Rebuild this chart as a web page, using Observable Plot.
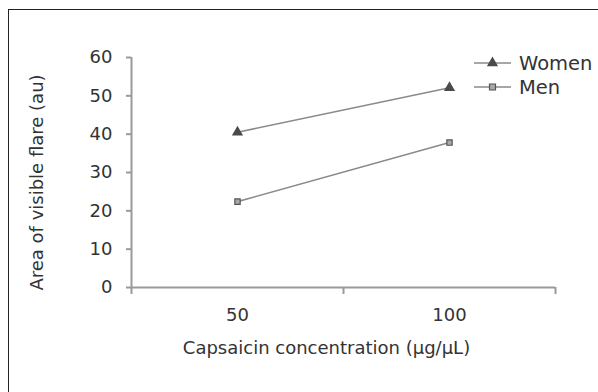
<!DOCTYPE html>
<html>
<head>
<meta charset="utf-8">
<script src="https://cdn.jsdelivr.net/npm/d3@7"></script>
<script src="https://cdn.jsdelivr.net/npm/@observablehq/plot@0.6"></script>
<style>
  body { margin: 0; background: #fff; }
  #chart { position: relative; width: 598px; height: 392px; overflow: hidden;
           font-family: "DejaVu Sans", sans-serif; color: #333; }
  #frame { position: absolute; left: 8px; top: 9px; right: -10px; bottom: -10px;
           border-left: 1.5px solid #222; border-top: 1.5px solid #222; }
  #legend { position: absolute; left: 474px; top: 51px; font-size: 19.5px; color: #333; }
  #legend .row { display: flex; align-items: center; height: 24px; white-space: nowrap; }
  #legend svg { margin-right: 8px; overflow: visible; }
</style>
</head>
<body>
<div id="chart"><div id="frame"></div></div>
<script>
// Capsaicin dose vs. visible flare area, by sex
const concentrations = [50, 100];
const women = [40.5, 52.1];
const men = [22.4, 37.8];
const seriesNames = ["Women", "Men"];
const yTicks = [0, 10, 20, 30, 40, 50, 60];
const xBounds = [25, 75, 125]; // category boundaries on the x axis
const yTitle = "Area of visible flare (au)";
const xTitle = "Capsaicin concentration (μg/μL)";

const seriesValues = { Women: women, Men: men };
const rows = seriesNames.flatMap(s =>
  concentrations.map((c, i) => ({ series: s, conc: c, value: seriesValues[s][i] }))
);

const textColor = "#333";
const lineColor = "#8a8a8a";
const axisColor = "#9a9a9a";
const markerStyle = {
  Women: { symbol: "triangle", fill: "#4a4a4a", stroke: "#4a4a4a", r: 3.4 },
  Men: { symbol: "square", fill: "#a8a8a8", stroke: "#555", r: 3 }
};

const chart = Plot.plot({
  width: 598,
  height: 392,
  marginLeft: 131,
  marginRight: 43,
  marginTop: 57,
  marginBottom: 105,
  style: { fontFamily: "'DejaVu Sans', sans-serif", fontSize: "18px", color: textColor, background: "transparent" },
  x: { type: "linear", domain: [25, 125] },
  y: { domain: [0, 60] },
  marks: [
    Plot.ruleX([25], { y1: 0, y2: 60, stroke: axisColor, strokeWidth: 2 }),
    Plot.ruleY([0], { stroke: axisColor, strokeWidth: 2 }),
    Plot.axisY({ ticks: yTicks, tickSize: 5, tickPadding: 14, label: null, stroke: axisColor, strokeWidth: 2, fill: textColor }),
    Plot.axisX({ ticks: xBounds, tickSize: 7, tickFormat: () => "", label: null, stroke: axisColor, strokeWidth: 2 }),
    Plot.axisX({ ticks: concentrations, tickSize: 0, tickPadding: 21, label: null, fill: textColor }),
    Plot.line(rows, { x: "conc", y: "value", z: "series", stroke: lineColor, strokeWidth: 1.6 }),
    ...seriesNames.map(s =>
      Plot.dot(rows.filter(d => d.series === s), { x: "conc", y: "value", ...markerStyle[s], strokeWidth: 1.2 })
    ),
    Plot.text([yTitle], { frameAnchor: "left", textAnchor: "middle", rotate: -90, dx: -94, dy: 10, fontSize: 18, fill: textColor }),
    Plot.text([xTitle], { frameAnchor: "bottom", dx: -17, dy: 66, fontSize: 18, fill: textColor })
  ]
});
chart.style.position = "absolute";
chart.style.left = "0";
chart.style.top = "0";
document.getElementById("chart").appendChild(chart);

// Legend: line sample with marker, then series name
const legend = document.createElement("div");
legend.id = "legend";
for (const s of seriesNames) {
  const row = document.createElement("div");
  row.className = "row";
  const m = markerStyle[s];
  const symbolPath = d3.symbol(m.symbol === "triangle" ? d3.symbolTriangle : d3.symbolSquare, 36)();
  row.innerHTML =
    `<svg width="37" height="14" viewBox="0 0 37 14">` +
    `<line x1="0" x2="37" y1="7" y2="7" stroke="${lineColor}" stroke-width="1.6"/>` +
    `<path d="${symbolPath}" transform="translate(18.5,7)" fill="${m.fill}" stroke="${m.stroke}" stroke-width="1.2"/>` +
    `</svg><span>${s}</span>`;
  legend.appendChild(row);
}
document.getElementById("chart").appendChild(legend);
</script>
</body>
</html>
